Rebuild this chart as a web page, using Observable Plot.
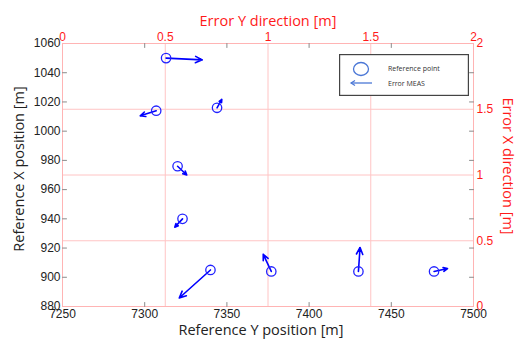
<!DOCTYPE html>
<html><head><meta charset="utf-8">
<script src="https://cdn.jsdelivr.net/npm/d3@7"></script>
<script src="https://cdn.jsdelivr.net/npm/@observablehq/plot@0.6"></script>
<style>
body{margin:0;background:#fff;}
#wrap{position:relative;width:517px;height:342px;}
#legend{position:absolute;left:339px;top:54px;}
</style></head>
<body><div id="wrap"><div id="chart"></div>
<svg id="legend" width="130" height="42"></svg>
</div>
<script>
// Reference points (Y position on horizontal axis, X position on vertical axis)
const refY = [7313, 7307, 7344, 7320, 7323, 7340, 7377, 7430, 7476];
const refX = [1050, 1014, 1016, 976, 940, 905, 904, 904, 904];
// Error arrows (as drawn, in axis units)
const errY = [22, -9.7, 2.9, 5.6, -4.7, -19, -4.9, 1, 8.2];
const errX = [-1.2, -3.5, 5.7, -6, -5.7, -19.2, 11.7, 16.4, 2];
// tick labels
const bottomTicks = [7250, 7300, 7350, 7400, 7450, 7500];
const leftTicks = [880, 900, 920, 940, 960, 980, 1000, 1020, 1040, 1060];
const topTicks = [0, 0.5, 1, 1.5, 2];
const rightTicks = [0, 0.5, 1, 1.5, 2];
const legendLabels = ["Reference point", "Error MEAS"];

const xDom = [7250, 7500], yDom = [880, 1060];
const topMap = v => xDom[0] + v * (xDom[1] - xDom[0]) / 2;
const rightMap = v => yDom[0] + v * (yDom[1] - yDom[0]) / 2;

const pts = refY.map((y, i) => ({Y: y, X: refX[i], Y2: y + errY[i], X2: refX[i] + errX[i]}));

const red = "#ff1a1a";
const tickFont = "Liberation Sans, Arial, sans-serif";
const titleFont = "Open Sans, sans-serif";
const tickShape = {draw(context, l) { context.moveTo(0, 0); context.lineTo(0, -l); }};
const inTick = (data, opts) => Plot.vector(data, {length: 4, anchor: "start", shape: tickShape, stroke: "#8a8a8a", strokeWidth: 1, ...opts});

const chart = Plot.plot({
  width: 517, height: 342,
  marginLeft: 62, marginRight: 44, marginTop: 43, marginBottom: 36,
  style: {fontFamily: tickFont, fontSize: "12px", background: "#fff"},
  x: {domain: xDom, axis: null},
  y: {domain: yDom, axis: null},
  marks: [
    Plot.gridX(topTicks.slice(1, -1).map(topMap), {stroke: "#ffc4c4", strokeOpacity: 1}),
    Plot.gridY(rightTicks.slice(1, -1).map(rightMap), {stroke: "#ffc4c4", strokeOpacity: 1}),
    Plot.frame({stroke: "#ffb4b4"}),
    // gray inward ticks
    inTick(bottomTicks.slice(1, -1), {x: d => d, frameAnchor: "bottom", rotate: 0}),
    inTick(bottomTicks.slice(1, -1), {x: d => d, frameAnchor: "top", rotate: 180}),
    inTick(leftTicks.slice(1, -1), {y: d => d, frameAnchor: "left", rotate: 90}),
    inTick(leftTicks.slice(1, -1), {y: d => d, frameAnchor: "right", rotate: -90}),
    // black labels
    Plot.axisX(bottomTicks, {anchor: "bottom", tickSize: 0, tickPadding: 3, fill: "#222", label: null, tickFormat: d => String(d)}),
    Plot.axisY(leftTicks, {anchor: "left", tickSize: 0, tickPadding: 2, fill: "#222", label: null, tickFormat: d => String(d)}),
    // red labels
    Plot.axisX(topTicks.map(topMap), {anchor: "top", tickSize: 0, tickPadding: 3, fill: red, label: null,
      tickFormat: d => String((d - xDom[0]) * 2 / (xDom[1] - xDom[0]))}),
    Plot.axisY(rightTicks.map(rightMap), {anchor: "right", tickSize: 0, tickPadding: 3, fill: red, label: null,
      tickFormat: d => String((d - yDom[0]) * 2 / (yDom[1] - yDom[0]))}),
    // titles
    Plot.text(["Error Y direction [m]"], {frameAnchor: "top", dy: -28, fill: red, fontFamily: titleFont, fontSize: 14.5}),
    Plot.text(["Reference Y position [m]"], {frameAnchor: "bottom", dy: 28, dx: -7, fill: "#222", fontFamily: titleFont, fontSize: 14.5}),
    Plot.text(["Reference X position [m]"], {frameAnchor: "left", textAnchor: "middle", dx: -43, dy: -6, rotate: -90, fill: "#222", fontFamily: titleFont, fontSize: 14.5}),
    Plot.text(["Error X direction [m]"], {frameAnchor: "right", textAnchor: "middle", dx: 34, dy: -9, rotate: 90, fill: red, fontFamily: titleFont, fontSize: 14.5}),
    // data
    Plot.arrow(pts, {x1: "Y", y1: "X", x2: "Y2", y2: "X2", stroke: "#0000ff", strokeWidth: 1.6, headLength: 7, headAngle: 50}),
    Plot.dot(pts, {x: "Y", y: "X", r: 4.7, stroke: "#2222ff", strokeWidth: 1.3, fill: "none"})
  ]
});
document.getElementById("chart").appendChild(chart);

// legend
const lg = d3.select("#legend");
lg.append("rect").attr("x", 0.6).attr("y", 0.6).attr("width", 128.8).attr("height", 40.8)
  .attr("fill", "#fff").attr("stroke", "#444").attr("stroke-width", 1.2);
lg.append("ellipse").attr("cx", 22).attr("cy", 15).attr("rx", 7.5).attr("ry", 6.5)
  .attr("fill", "none").attr("stroke", "#4b77d6").attr("stroke-width", 1.3);
lg.append("line").attr("x1", 12).attr("y1", 29).attr("x2", 33).attr("y2", 29)
  .attr("stroke", "#4b77d6").attr("stroke-width", 1.3);
lg.append("path").attr("d", "M16,26.5 L12,29 L16,31.5").attr("fill", "none")
  .attr("stroke", "#4b77d6").attr("stroke-width", 1.2);
lg.selectAll("text.l").data(legendLabels).join("text")
  .attr("x", 49).attr("y", (d, i) => 14.5 + i * 15).attr("dy", "0.35em")
  .attr("font-family", titleFont).attr("font-size", 7).attr("fill", "#333").text(d => d);
</script>
</body></html>
